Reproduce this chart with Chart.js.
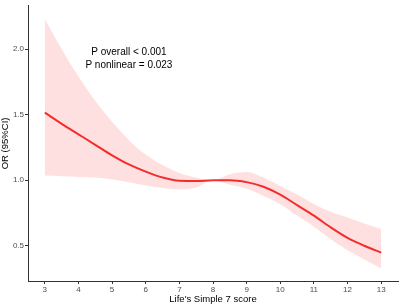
<!DOCTYPE html>
<html>
<head>
<meta charset="utf-8">
<script src="https://cdn.jsdelivr.net/npm/chart.js"></script>
<style>
  body { margin: 0; background: #fff; }
  #wrap { width: 400px; height: 306px; }
</style>
</head>
<body>
<div id="wrap"><canvas id="myChart"></canvas></div>
<script>
// LS7 score vs OR with 95% CI
var scores = [3, 3.5, 4, 4.5, 5, 5.5, 6, 6.5, 7, 7.5, 8, 8.5, 9, 9.5, 10, 10.5, 11, 11.5, 12, 12.5, 13];
var orValues = [1.515, 1.43, 1.35, 1.27, 1.19, 1.12, 1.065, 1.02, 0.995, 0.993, 1.0, 1.0, 0.985, 0.95, 0.89, 0.81, 0.73, 0.64, 0.56, 0.50, 0.447];
var upperCI = [2.23, 2.0, 1.79, 1.605, 1.445, 1.305, 1.195, 1.115, 1.055, 1.02, 1.0, 1.045, 1.062, 1.02, 0.955, 0.89, 0.817, 0.76, 0.715, 0.67, 0.628];
var lowerCI = [1.035, 1.03, 1.025, 1.02, 1.005, 0.985, 0.96, 0.94, 0.93, 0.945, 1.0, 0.965, 0.935, 0.88, 0.817, 0.73, 0.645, 0.55, 0.465, 0.395, 0.327];
var xTicks = [3, 4, 5, 6, 7, 8, 9, 10, 11, 12, 13];
var yTicks = [0.5, 1.0, 1.5, 2.0];
var pLabels = ["P overall < 0.001", "P nonlinear = 0.023"];

var FONT = "'Liberation Sans', Arial, Helvetica, sans-serif";

function pts(ys) {
    return scores.map(function (x, i) { return {x: x, y: ys[i]}; });
}

var pText = {
    id: "pText",
    afterDatasetsDraw: function (chart) {
        var ctx = chart.ctx;
        var xs = chart.scales.x, ys = chart.scales.y;
        ctx.save();
        ctx.fillStyle = "#000";
        ctx.font = "10px " + FONT;
        ctx.textAlign = "center";
        ctx.textBaseline = "middle";
        ctx.fillText(pLabels[0], xs.getPixelForValue(5.5), ys.getPixelForValue(1.975));
        ctx.fillText(pLabels[1], xs.getPixelForValue(5.5), ys.getPixelForValue(1.88));
        ctx.restore();
    }
};

new Chart("myChart", {
    type: "line",
    data: {
        datasets: [{
            data: pts(upperCI),
            borderWidth: 0,
            backgroundColor: "rgba(255,0,0,0.12)",
            fill: "+1",
            pointRadius: 0
        }, {
            data: pts(lowerCI),
            borderWidth: 0,
            fill: false,
            pointRadius: 0
        }, {
            data: pts(orValues),
            borderColor: "#f33333",
            borderWidth: 2,
            fill: false,
            pointRadius: 0
        }]
    },
    plugins: [pText],
    options: {
        responsive: true,
        maintainAspectRatio: false,
        animation: false,
        cubicInterpolationMode: "monotone",
        layout: {padding: {top: 3, right: 2, left: 0, bottom: 0}},
        plugins: {legend: {display: false}, tooltip: {enabled: false}},
        scales: {
            x: {
                type: "linear",
                min: 2.5,
                max: 13.5,
                afterBuildTicks: function (s) { s.ticks = xTicks.map(function (v) { return {value: v}; }); },
                afterFit: function (s) { s.height = 25; },
                grid: {drawOnChartArea: false, drawTicks: true, tickLength: 3, color: "#333"},
                border: {display: true, color: "#333", width: 1},
                ticks: {color: "#4d4d4d", font: {size: 8, family: FONT}, padding: 1, maxRotation: 0},
                title: {display: true, text: "Life's Simple 7 score", color: "#000",
                    font: {size: 9.5, family: FONT}, padding: {top: 0, bottom: 1}}
            },
            y: {
                min: 0.231,
                max: 2.33,
                afterBuildTicks: function (s) { s.ticks = yTicks.map(function (v) { return {value: v}; }); },
                afterFit: function (s) { s.width = 28; },
                grid: {drawOnChartArea: false, drawTicks: true, tickLength: 3, color: "#333"},
                border: {display: true, color: "#333", width: 1},
                ticks: {color: "#4d4d4d", font: {size: 8, family: FONT}, padding: 1,
                    callback: function (v) { return v.toFixed(1); }},
                title: {display: true, text: "OR (95%CI)", color: "#000",
                    font: {size: 9.5, family: FONT}, padding: {top: 0, bottom: 0}}
            }
        }
    }
});
</script>
</body>
</html>
